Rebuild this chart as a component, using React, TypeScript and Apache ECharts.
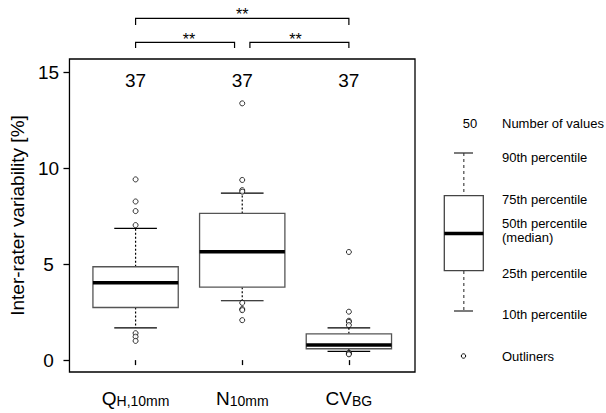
import React, { useEffect, useRef } from "react";
import * as echarts from "echarts";

const FONT = 'Arial, "Liberation Sans", Helvetica, sans-serif';

const categoryPositions = [1, 2, 3];
const categoryMain = ["Q", "N", "CV"];
const categorySub = ["H,10mm", "10mm", "BG"];
const counts = [37, 37, 37];
const p10 = [1.68, 3.09, 0.45];
const p25 = [2.74, 3.8, 0.59];
const p50 = [4.03, 5.64, 0.78];
const p75 = [4.86, 7.64, 1.37];
const p90 = [6.86, 8.7, 1.68];
const outliersQ = [9.41, 8.26, 7.76, 7.03, 1.4, 1.22, 1.0];
const outliersN = [13.37, 9.38, 8.85, 8.77, 2.98, 2.66, 2.6, 2.08];
const outliersCV = [5.63, 2.52, 2.05, 1.99, 1.82, 0.38, 0.33, 0.3];
const yTicks = [0, 5, 10, 15];
const comparisons = [
  [1, 2, 1],
  [2, 3, 1],
  [1, 3, 2],
];
const significance = ["**", "**", "**"];
const yAxisTitle = "Inter-rater variability [%]";
const legendCount = "50";
const legendTexts = [
  "Number of values",
  "90th percentile",
  "75th percentile",
  "50th percentile",
  "(median)",
  "25th percentile",
  "10th percentile",
  "Outliners",
];

export default function App() {
  const ref = useRef<HTMLDivElement>(null);

  useEffect(() => {
    if (!ref.current) return;
    const chart = echarts.init(ref.current, undefined, { renderer: "svg" });

    const boxData = categoryPositions.map((x, i) => [
      x,
      p10[i],
      p25[i],
      p50[i],
      p75[i],
      p90[i],
      counts[i],
    ]);
    const outlierGroups = [outliersQ, outliersN, outliersCV];
    const outlierData: number[][] = [];
    outlierGroups.forEach((g, i) =>
      g.forEach((v) => outlierData.push([categoryPositions[i], v]))
    );

    const bracketData = comparisons.map((c, i) => [c[0], c[1], c[2], i]);

    const option: any = {
      animation: false,
      grid: {
        left: 66,
        top: 59,
        width: 349,
        height: 313,
        show: true,
        borderColor: "#000",
        borderWidth: 1.3,
        backgroundColor: "transparent",
      },
      xAxis: {
        type: "value",
        min: 0.38,
        max: 3.62,
        splitLine: { show: false },
        axisLine: { show: false },
        axisTick: {
          show: true,
          length: 5,
          customValues: categoryPositions,
          lineStyle: { color: "#000", width: 1.3 },
        },
        axisLabel: {
          customValues: categoryPositions,
          margin: 17,
          formatter: (v: number) => {
            const i = categoryPositions.indexOf(Math.round(v));
            if (i < 0) return "";
            return `{m|${categoryMain[i]}}{s|${categorySub[i]}}`;
          },
          rich: {
            m: {
              fontSize: 19,
              lineHeight: 19,
              fontFamily: FONT,
              color: "#000",
              verticalAlign: "top",
            },
            s: {
              fontSize: 14,
              lineHeight: 14,
              fontFamily: FONT,
              color: "#000",
              verticalAlign: "bottom",
              padding: [9, 0, 0, 0],
            },
          },
        },
      },
      yAxis: {
        type: "value",
        min: -0.62,
        max: 15.68,
        splitLine: { show: false },
        axisLine: { show: false },
        axisTick: {
          show: true,
          length: 6,
          customValues: yTicks,
          lineStyle: { color: "#000", width: 1.3 },
        },
        axisLabel: {
          customValues: yTicks,
          margin: 21,
          align: "center",
          fontSize: 19,
          fontFamily: FONT,
          color: "#000",
        },
        name: yAxisTitle,
        nameLocation: "middle",
        nameGap: 40,
        nameTextStyle: { fontSize: 19, fontFamily: FONT, color: "#000" },
      },
      series: [
        {
          type: "custom",
          data: boxData,
          encode: { x: 0, y: [1, 2, 3, 4, 5] },
          z: 2,
          renderItem: (_params: any, api: any) => {
            const x = api.value(0);
            const v10 = api.value(1);
            const v25 = api.value(2);
            const v50 = api.value(3);
            const v75 = api.value(4);
            const v90 = api.value(5);
            const n = api.value(6);
            const halfW = 0.4;
            const capW = 0.2;
            const c = (a: number, b: number) => api.coord([a, b]);
            const [xl, y25] = c(x - halfW, v25);
            const [xr, y75] = c(x + halfW, v75);
            const [xc, y50] = c(x, v50);
            const [, y10] = c(x, v10);
            const [, y90] = c(x, v90);
            const [cl] = c(x - capW, 0);
            const [cr] = c(x + capW, 0);
            const [, yn] = c(x, 14.58);
            const dotted = { stroke: "#000", lineWidth: 1.2, lineDash: [2, 2] };
            const solid = { stroke: "#000", lineWidth: 1.2 };
            return {
              type: "group",
              children: [
                { type: "line", shape: { x1: xc, y1: y75, x2: xc, y2: y90 }, style: dotted },
                { type: "line", shape: { x1: xc, y1: y25, x2: xc, y2: y10 }, style: dotted },
                { type: "line", shape: { x1: cl, y1: y90, x2: cr, y2: y90 }, style: solid },
                { type: "line", shape: { x1: cl, y1: y10, x2: cr, y2: y10 }, style: solid },
                {
                  type: "rect",
                  shape: { x: xl, y: y75, width: xr - xl, height: y25 - y75 },
                  style: { fill: "#fff", stroke: "#555", lineWidth: 1.3 },
                },
                {
                  type: "line",
                  shape: { x1: xl, y1: y50, x2: xr, y2: y50 },
                  style: { stroke: "#000", lineWidth: 3.5 },
                },
                {
                  type: "text",
                  style: {
                    x: xc,
                    y: yn,
                    text: String(n),
                    fontSize: 19,
                    fontFamily: FONT,
                    fill: "#000",
                    align: "center",
                    verticalAlign: "middle",
                  },
                },
              ],
            };
          },
        },
        {
          type: "scatter",
          data: outlierData,
          z: 3,
          symbol: "circle",
          symbolSize: 5,
          itemStyle: { color: "#fff", borderColor: "#000", borderWidth: 1 },
          emphasis: { disabled: true },
        },
        {
          type: "custom",
          data: bracketData,
          encode: { x: [0, 1], y: 2 },
          clip: false,
          z: 4,
          renderItem: (_params: any, api: any) => {
            const a = api.value(0);
            const b = api.value(1);
            const level = api.value(2);
            const idx = api.value(3);
            const gap = 0.072;
            const xa = a === 2 && level === 1 ? a + gap : a;
            const xb = b === 2 && level === 1 ? b - gap : b;
            const yLine = level === 1 ? 16.55 : 17.8;
            const yEnd = level === 1 ? 16.25 : 17.45;
            const yStar = level === 1 ? 16.71 : 17.99;
            const [x1, y1] = api.coord([xa, yLine]);
            const [x2] = api.coord([xb, yLine]);
            const [, y2] = api.coord([xa, yEnd]);
            const [xm, ys] = api.coord([(a + b) / 2, yStar]);
            return {
              type: "group",
              children: [
                {
                  type: "polyline",
                  shape: { points: [[x1, y2], [x1, y1], [x2, y1], [x2, y2]] },
                  style: { stroke: "#000", lineWidth: 1.2, fill: null },
                },
                {
                  type: "text",
                  style: {
                    x: xm,
                    y: ys,
                    text: significance[idx],
                    fontSize: 16,
                    fontFamily: FONT,
                    fill: "#000",
                    align: "center",
                    verticalAlign: "middle",
                  },
                },
              ],
            };
          },
        },
      ],
      graphic: [
        {
          type: "text",
          style: {
            x: 470,
            y: 123,
            text: legendCount,
            fontSize: 13,
            fontFamily: FONT,
            fill: "#000",
            align: "center",
            verticalAlign: "middle",
          },
        },
        ...legendTexts.map((t, i) => ({
          type: "text",
          style: {
            x: 502,
            y: [123, 157, 199, 223, 237, 273, 314, 356][i],
            text: t,
            fontSize: 13,
            fontFamily: FONT,
            fill: "#000",
            align: "left",
            verticalAlign: "middle",
          },
        })),
        {
          type: "line",
          shape: { x1: 463.8, y1: 153, x2: 463.8, y2: 196 },
          style: { stroke: "#555", lineWidth: 1.3, lineDash: [3, 3] },
        },
        {
          type: "line",
          shape: { x1: 463.8, y1: 271, x2: 463.8, y2: 311 },
          style: { stroke: "#555", lineWidth: 1.3, lineDash: [3, 3] },
        },
        {
          type: "line",
          shape: { x1: 454, y1: 153, x2: 473, y2: 153 },
          style: { stroke: "#333", lineWidth: 1.3 },
        },
        {
          type: "line",
          shape: { x1: 454, y1: 311, x2: 473, y2: 311 },
          style: { stroke: "#333", lineWidth: 1.3 },
        },
        {
          type: "rect",
          shape: { x: 444.3, y: 195.7, width: 39, height: 75 },
          style: { fill: "#fff", stroke: "#444", lineWidth: 1.3 },
        },
        {
          type: "line",
          shape: { x1: 444.3, y1: 233.5, x2: 483.3, y2: 233.5 },
          style: { stroke: "#000", lineWidth: 3.5 },
        },
        {
          type: "circle",
          shape: { cx: 463.5, cy: 356, r: 2.2 },
          style: { fill: "#fff", stroke: "#000", lineWidth: 1 },
        },
      ],
    };

    chart.setOption(option);
    return () => chart.dispose();
  }, []);

  return (
    <div
      ref={ref}
      style={{ position: "fixed", left: 0, top: 0, width: 606, height: 413, background: "#fff" }}
    />
  );
}
